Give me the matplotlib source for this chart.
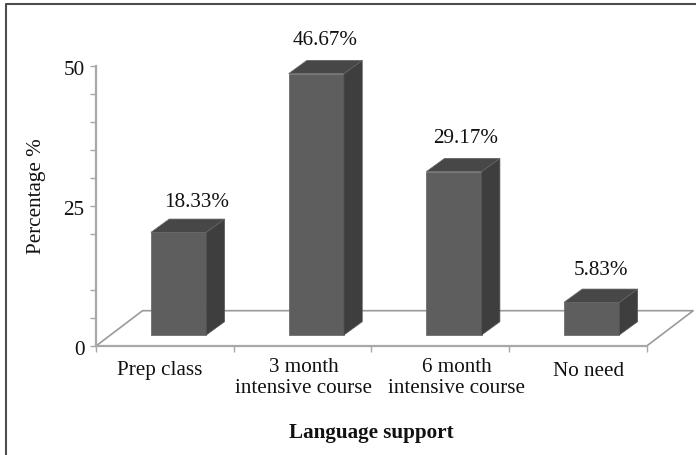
import matplotlib
matplotlib.use("Agg")
import matplotlib.pyplot as plt
from matplotlib.patches import Polygon
from matplotlib.lines import Line2D
from matplotlib.transforms import ScaledTranslation

categories = ["Prep class", "3 month\nintensive course", "6 month\nintensive course", "No need"]
values = [18.33, 46.67, 29.17, 5.83]
value_labels = ["18.33%", "46.67%", "29.17%", "5.83%"]
y_major = [0, 25, 50]
y_ticks = [0, 5, 10, 20, 25, 30, 35, 40, 45, 50]

W, H = 696, 456
plt.rcParams["font.family"] = ["Liberation Serif", "DejaVu Serif"]
FS = 15.2
TXT = "#111111"
fig = plt.figure(figsize=(W / 100, H / 100), dpi=100, facecolor="white")
L, R, T, B = 96.0, 646.7, 67.0, 347.0
ax = fig.add_axes([L / W, 1 - B / H, (R - L) / W, (B - T) / H])
ax.set_xlim(0, 4)
ax.set_ylim(0, 50)
ax.patch.set_visible(False)
for s in ("top", "right"):
    ax.spines[s].set_visible(False)
AXC = "#a8a8a8"
for s in ("left", "bottom"):
    ax.spines[s].set_color(AXC)
    ax.spines[s].set_linewidth(1.6)

ppx = (R - L) / 4
ppy = (B - T) / 50
depth_x = 46.5 / ppx
depth_y = 35.3 / ppy
base = 11.0 / ppy
bdx = 18.3 / ppx
bdy = 13.3 / ppy
bw = 55.3 / ppx
off = 0.6

# floor
ax.add_line(Line2D([0, depth_x, 4 + depth_x, 4], [0, depth_y, depth_y, 0],
                   color="#9a9a9a", lw=1.2, clip_on=False, zorder=1))

# label placement, in pixels relative to the bar's upper depth edge
label_dx = [8.5, 0, 3, 0]
label_dy = [17.5, 20.5, 20.5, 20]

FRONT, TOP, SIDE = "#5e5e5e", "#474747", "#3e3e3e"
for i, v in enumerate(values):
    x0 = i + off - bw / 2
    x1 = x0 + bw
    top = base + v
    ax.bar(i + off, v, width=bw, bottom=base, color=FRONT, edgecolor="#6e6e6e", lw=0.6, zorder=3)
    ax.add_patch(Polygon([(x1, base), (x1 + bdx, base + bdy), (x1 + bdx, top + bdy), (x1, top)],
                         closed=True, fc=SIDE, ec="#555555", lw=0.5, zorder=3, clip_on=False))
    ax.add_patch(Polygon([(x0, top), (x0 + bdx, top + bdy), (x1 + bdx, top + bdy), (x1, top)],
                         closed=True, fc=TOP, ec="#666666", lw=0.5, zorder=3, clip_on=False))
    ax.annotate(value_labels[i], (i + off + bdx / 2, top + bdy),
                xytext=(label_dx[i], label_dy[i]), textcoords="offset pixels",
                ha="center", va="center", fontsize=FS, color=TXT, annotation_clip=False)

ax.set_yticks(y_ticks)
ax.set_yticklabels([str(t) if t in y_major else "" for t in y_ticks], fontsize=FS, color=TXT)
ax.tick_params(axis="y", length=4.3, width=1.0, color=AXC, pad=4)
shift = ScaledTranslation(0, -1.0 / 72, fig.dpi_scale_trans)
for lab in ax.get_yticklabels():
    lab.set_transform(lab.get_transform() + shift)
ax.set_xticks([0, 1, 2, 3, 4])
ax.set_xticklabels([])
ax.tick_params(axis="x", length=4.3, width=1.0, color=AXC)

cat_x = [160, 303.5, 456.5, 588.5]
cat_y = [371, 378, 378, 371]
for i, c in enumerate(categories):
    fig.text(cat_x[i] / W, 1 - cat_y[i] / H, c, ha="center", va="center", fontsize=FS,
             color=TXT, linespacing=1.1, multialignment="center")

fig.text(371 / W, 1 - 433 / H, "Language support", ha="center", va="center", fontsize=FS,
         fontweight="bold", color=TXT)
fig.text(36.5 / W, 1 - 196 / H, "Percentage %", rotation=90, ha="center", va="center", fontsize=FS,
         color=TXT)

# outer rule: left and top edges only
fig.add_artist(Line2D([5.5 / W, 5.5 / W, 1], [0, 1 - 5 / H, 1 - 5 / H], color="#4d4d4d", lw=1.5))

fig.savefig("out.png", dpi=100)
